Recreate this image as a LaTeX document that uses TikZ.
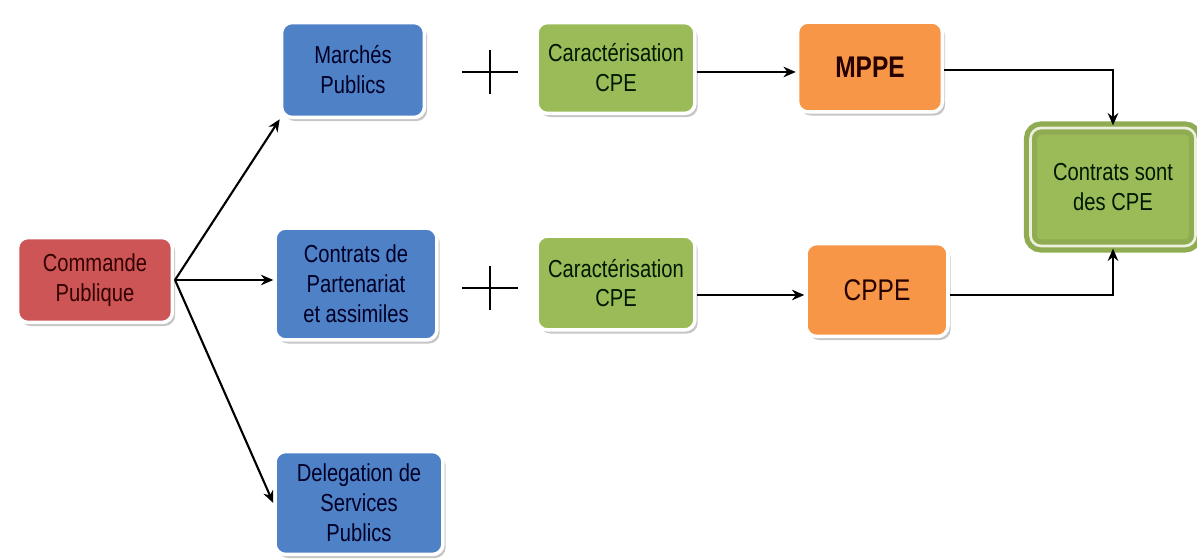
\documentclass[tikz,border=0pt]{standalone}
\usepackage{fontspec}
\setmainfont[FakeStretch=0.82]{Liberation Sans}
\usetikzlibrary{shadows,arrows.meta}

\definecolor{rougebox}{HTML}{CD5555}
\definecolor{bleubox}{HTML}{4F81C7}
\definecolor{vertbox}{HTML}{9BBB59}
\definecolor{orangebox}{HTML}{F79646}

\tikzset{
  boite/.style={rectangle, rounded corners=6pt, draw=white, line width=2pt,
    align=center, font=\fontsize{14}{17}\selectfont,
    drop shadow={opacity=0.45, shadow xshift=1.5pt, shadow yshift=-2pt}},
  fleche/.style={-{Stealth[length=7pt,width=6pt]}, line width=1.2pt}
}

\begin{document}
\begin{tikzpicture}[x=0.02cm,y=-0.02cm]
  \useasboundingbox (0,0) rectangle (1197,560);

  \node[boite, fill=rougebox, text=black!80!red, minimum width=3.1cm, minimum height=1.7cm] (commande) at (95,280) {Commande\\Publique};

  \node[boite, fill=bleubox, text=blue!15!black, minimum width=2.86cm, minimum height=1.9cm] (marches) at (353,70) {Marchés\\Publics};
  \node[boite, fill=bleubox, text=blue!15!black, minimum width=3.24cm, minimum height=2.24cm] (partenariat) at (356,284) {Contrats de\\Partenariat\\et assimiles};
  \node[boite, fill=bleubox, text=blue!15!black, minimum width=3.36cm, minimum height=2.06cm] (delegation) at (359,503) {Delegation de\\Services\\Publics};

  \node[boite, fill=vertbox, text=green!10!black, minimum width=3.16cm, minimum height=1.82cm] (carTop) at (616,68) {Caractérisation\\CPE};
  \node[boite, fill=vertbox, text=green!10!black, minimum width=3.16cm, minimum height=1.88cm] (carMid) at (616,283) {Caractérisation\\CPE};

  \node[boite, fill=orangebox, text=black!85!red, minimum width=2.9cm, minimum height=1.8cm, font=\fontsize{17}{20}\selectfont\bfseries] (mppe) at (870,67) {MPPE};
  \node[boite, fill=orangebox, text=black!85!red, minimum width=2.84cm, minimum height=1.86cm, font=\fontsize{17}{20}\selectfont] (cppe) at (877,290) {CPPE};

  \node[boite, fill=vertbox, draw=vertbox!92!black, line width=3pt, double=white!80!vertbox, double distance=1.5pt, text=green!10!black, minimum width=3.3cm, minimum height=2.36cm] (cpe) at (1113,187) {Contrats sont\\des CPE};

  % signes plus
  \draw[line width=1.2pt] (462,72) -- (518,72) (490,50) -- (490,94);
  \draw[line width=1.2pt] (462,288) -- (518,288) (490,266) -- (490,310);

  % fleches
  \coordinate (depart) at (175,280);
  \draw[fleche] (depart) -- (marches.south west);
  \draw[fleche] (depart) -- (partenariat.west |- depart);
  \draw[fleche] (depart) -- (delegation.west);
  \draw[fleche] (carTop.east |- 0,72) -- (mppe.west |- 0,72);
  \draw[fleche] (carMid.east |- 0,295) -- (cppe.west |- 0,295);
  \draw[fleche] (mppe.east |- 0,70) -| (cpe.north);
  \draw[fleche] (cppe.east |- 0,295) -| (cpe.south);
\end{tikzpicture}
\end{document}
